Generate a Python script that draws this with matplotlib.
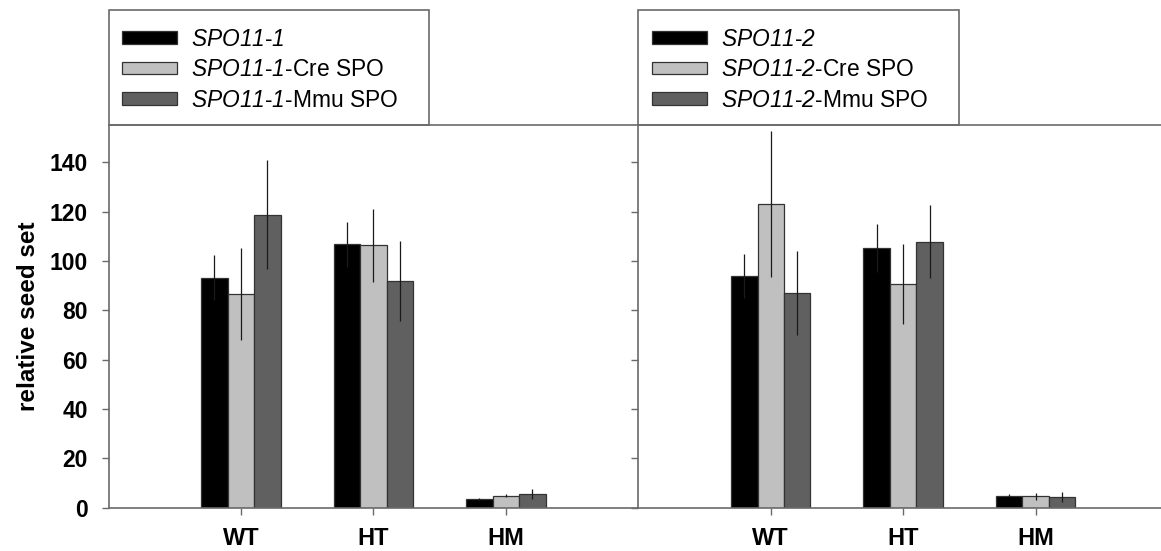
import matplotlib
matplotlib.use('Agg')
import matplotlib.pyplot as plt
from matplotlib.patches import Patch, Rectangle
import numpy as np

# ---------------- data ----------------
categories = ['WT', 'HT', 'HM']

# panel 1 (SPO11-1)
p1_native = [93.2, 106.8, 3.7]
p1_native_err = [9.1, 9.1, 0.4]
p1_cre = [86.6, 106.4, 4.9]
p1_cre_err = [18.6, 14.8, 0.7]
p1_mmu = [118.8, 91.9, 5.7]
p1_mmu_err = [22.2, 16.1, 2.0]
p1_labels = [r'$\mathrm{SPO11}$-$\mathrm{1}$',
             r'$\mathrm{SPO11}$-$\mathrm{1}$-Cre SPO',
             r'$\mathrm{SPO11}$-$\mathrm{1}$-Mmu SPO']

# panel 2 (SPO11-2)
p2_native = [93.9, 105.4, 4.9]
p2_native_err = [9.0, 9.8, 0.7]
p2_cre = [123.2, 90.7, 4.7]
p2_cre_err = [29.7, 16.3, 1.4]
p2_mmu = [86.9, 107.9, 4.3]
p2_mmu_err = [17.0, 14.7, 1.9]
p2_labels = [r'$\mathrm{SPO11}$-$\mathrm{2}$',
             r'$\mathrm{SPO11}$-$\mathrm{2}$-Cre SPO',
             r'$\mathrm{SPO11}$-$\mathrm{2}$-Mmu SPO']

yticks = [0, 20, 40, 60, 80, 100, 120, 140]
ylabel = 'relative seed set'

# ---------------- style ----------------
plt.rcParams['font.family'] = ['Liberation Sans', 'DejaVu Sans']
plt.rcParams['mathtext.fontset'] = 'custom'
# gene names are italic (incl. digits) -> use the italic face for \mathrm
plt.rcParams['mathtext.rm'] = 'Liberation Sans:italic'
plt.rcParams['mathtext.it'] = 'Liberation Sans:italic'
plt.rcParams['mathtext.bf'] = 'Liberation Sans:bold'

colors = ['#000000', '#c0c0c0', '#606060']
edge = '#333333'
spine_c = '#6a6a6a'

W, H = 1161, 551
fig = plt.figure(figsize=(W / 100, H / 100), dpi=100)


def axrect(x0, x1, ytop, ybot):
    return [x0 / W, 1 - ybot / H, (x1 - x0) / W, (ybot - ytop) / H]


ax1 = fig.add_axes(axrect(108.5, 638.3, 125, 507.7))
ax2 = fig.add_axes(axrect(638.3, 1168.1, 125, 507.7))

panels = [
    (ax1, [p1_native, p1_cre, p1_mmu], [p1_native_err, p1_cre_err, p1_mmu_err], p1_labels),
    (ax2, [p2_native, p2_cre, p2_mmu], [p2_native_err, p2_cre_err, p2_mmu_err], p2_labels),
]

x = np.arange(1, len(categories) + 1)
width = 0.2
offsets = [-width, 0, width]

for ax, series, errs, labels in panels:
    for vals, err, off, col in zip(series, errs, offsets, colors):
        ax.bar(x + off, vals, width=width, color=col, edgecolor=edge,
               linewidth=0.9, zorder=2)
        ax.errorbar(x + off, vals, yerr=err, fmt='none', ecolor='#1a1a1a',
                    elinewidth=0.9, capsize=0, zorder=3)
    ax.set_xlim(0, 4)
    ax.set_ylim(0, 155.2)
    ax.set_xticks(x)
    ax.set_xticklabels(categories, fontsize=17, fontweight='bold')
    ax.set_yticks(yticks)
    ax.tick_params(axis='x', length=5, width=1, color=spine_c, pad=9)
    ax.tick_params(axis='y', length=5, width=1, color=spine_c, pad=10)
    for s in ['left', 'top', 'bottom']:
        ax.spines[s].set_color(spine_c)
        ax.spines[s].set_linewidth(1.2)
    ax.spines['right'].set_visible(False)

    # legend box above the panel
    box = Rectangle((0, 1), 0.605, 0.3005, transform=ax.transAxes, fill=False,
                    edgecolor=spine_c, linewidth=1.2, clip_on=False, zorder=5)
    ax.add_patch(box)
    handles = [Patch(facecolor=c, edgecolor=edge, linewidth=0.9) for c in colors]
    ax.legend(handles, labels, loc='upper left',
              bbox_to_anchor=(13.5 / 529.8, (507.7 - 27.5) / 382.7),
              frameon=False, fontsize=16.4, borderpad=0, borderaxespad=0,
              handlelength=2.42, handleheight=0.48, handletextpad=0.6,
              labelspacing=0.33)

for lab in ax1.get_yticklabels():
    lab.set_fontsize(16.5)
    lab.set_fontweight('bold')
ax2.tick_params(axis='y', labelleft=False)

ax1.set_ylabel(ylabel, fontsize=17.5, fontweight='bold')
ax1.yaxis.set_label_coords(-0.13, 0.5)

fig.savefig('out.png', dpi=100)
